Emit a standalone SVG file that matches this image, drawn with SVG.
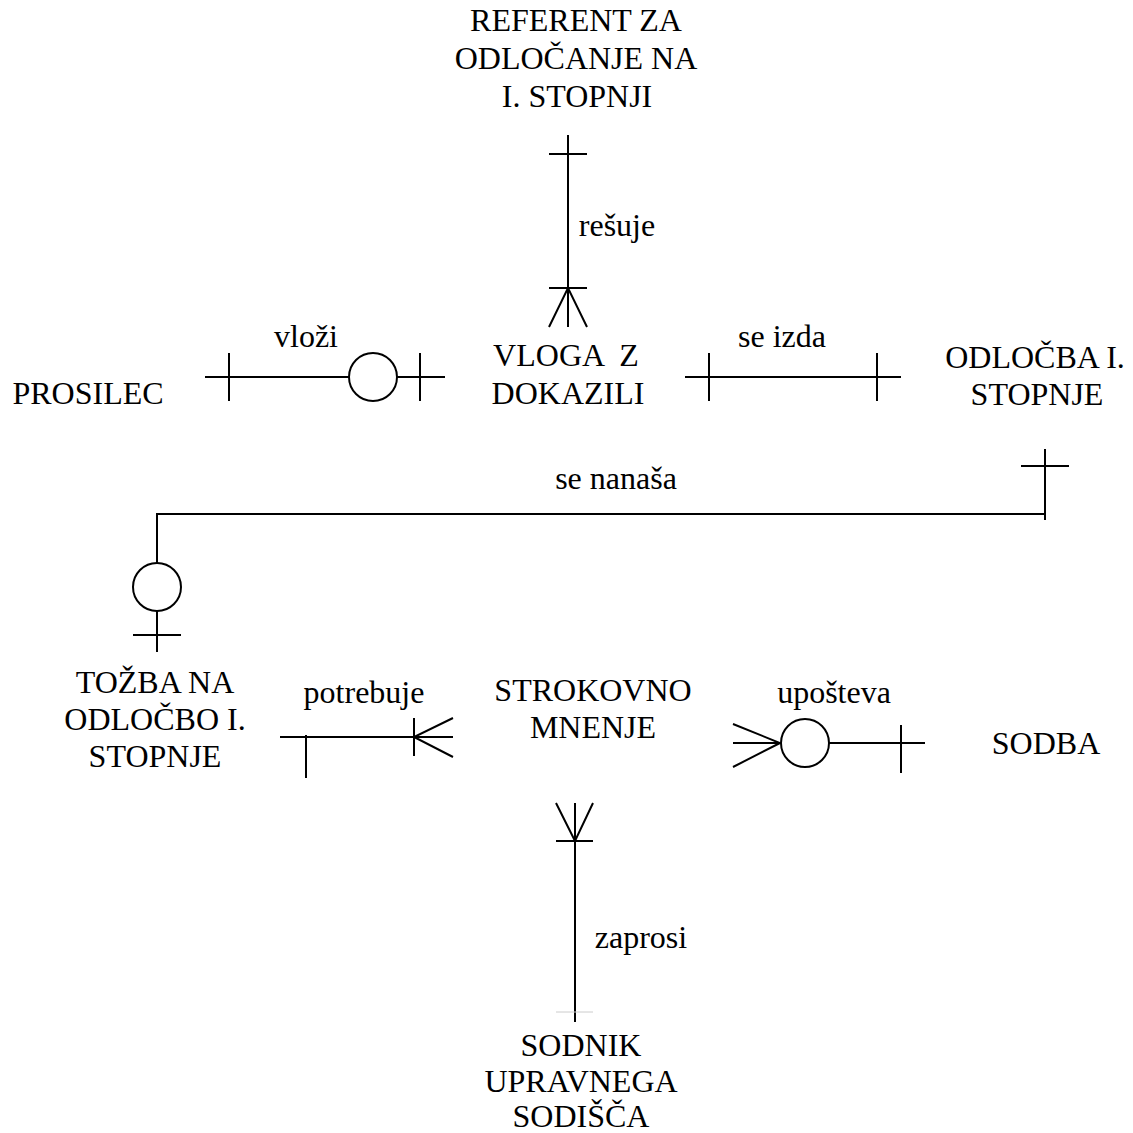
<svg xmlns="http://www.w3.org/2000/svg" width="1133" height="1133" viewBox="0 0 1133 1133">
<style>
text{font-family:"Liberation Serif","Times New Roman",serif;font-size:32px;fill:#000;text-anchor:middle}
.c line,.c path,.c polyline{stroke:#000;stroke-width:2;fill:none}
.c circle{stroke:#000;stroke-width:2;fill:#fff}
</style>
<rect width="1133" height="1133" fill="#fff"/>
<g id="referent"><text x="576" y="31">REFERENT ZA</text><text x="576" y="69">ODLOČANJE NA</text><text x="577" y="107">I. STOPNJI</text></g>
<g id="prosilec"><text x="88" y="404">PROSILEC</text></g>
<g id="vloga"><text x="566" y="366" xml:space="preserve">VLOGA  Z</text><text x="568" y="404">DOKAZILI</text></g>
<g id="odlocba"><text x="1035" y="368">ODLOČBA I.</text><text x="1037" y="405">STOPNJE</text></g>
<g id="tozba"><text x="155" y="693">TOŽBA NA</text><text x="155" y="730">ODLOČBO I.</text><text x="155" y="767">STOPNJE</text></g>
<g id="strokovno"><text x="593" y="701">STROKOVNO</text><text x="593" y="738">MNENJE</text></g>
<g id="sodba"><text x="1046" y="754">SODBA</text></g>
<g id="sodnik"><text x="581" y="1056">SODNIK</text><text x="581" y="1092">UPRAVNEGA</text><text x="581" y="1127">SODIŠČA</text></g>
<g id="connectors" class="c">
<!-- resuje -->
<line x1="568" y1="135" x2="568" y2="327"/>
<line x1="549" y1="154" x2="587" y2="154"/>
<line x1="549" y1="288" x2="587" y2="288"/>
<polyline points="549,327 568,288 587,327"/>
<text x="617" y="236">rešuje</text>
<!-- vlozi -->
<line x1="205" y1="377" x2="349" y2="377"/>
<line x1="397" y1="377" x2="445" y2="377"/>
<line x1="229" y1="353" x2="229" y2="401"/>
<circle cx="373" cy="377" r="24"/>
<line x1="420" y1="353" x2="420" y2="401"/>
<text x="306" y="347">vloži</text>
<!-- se izda -->
<line x1="685" y1="377" x2="901" y2="377"/>
<line x1="709" y1="353" x2="709" y2="401"/>
<line x1="877" y1="353" x2="877" y2="401"/>
<text x="782" y="347">se izda</text>
<!-- se nanasa -->
<polyline points="157,563 157,514 1045,514"/>
<line x1="1045" y1="449" x2="1045" y2="520"/>
<line x1="1021" y1="466" x2="1069" y2="466"/>
<circle cx="157" cy="587" r="24"/>
<line x1="157" y1="611" x2="157" y2="652"/>
<line x1="133" y1="635" x2="181" y2="635"/>
<text x="616" y="489">se nanaša</text>
<!-- potrebuje -->
<line x1="280" y1="737" x2="453" y2="737"/>
<line x1="306" y1="735" x2="306" y2="778"/>
<line x1="414" y1="718" x2="414" y2="756"/>
<polyline points="453,718 414,737 453,757"/>
<text x="364" y="703">potrebuje</text>
<!-- upošteva -->
<line x1="733" y1="743" x2="781" y2="743"/>
<polyline points="733,724 780,743 733,767"/>
<circle cx="805" cy="743" r="24"/>
<line x1="829" y1="743" x2="925" y2="743"/>
<line x1="901" y1="725" x2="901" y2="773"/>
<text x="834" y="703">upošteva</text>
<!-- zaprosi -->
<line x1="575" y1="803" x2="575" y2="1022"/>
<line x1="556" y1="841" x2="593" y2="841"/>
<polyline points="556,803 575,841 593,803"/>
<line x1="556" y1="1012" x2="593" y2="1012" style="stroke:#ccc;stroke-width:1"/>
<text x="641" y="948">zaprosi</text>
</g>
</svg>
